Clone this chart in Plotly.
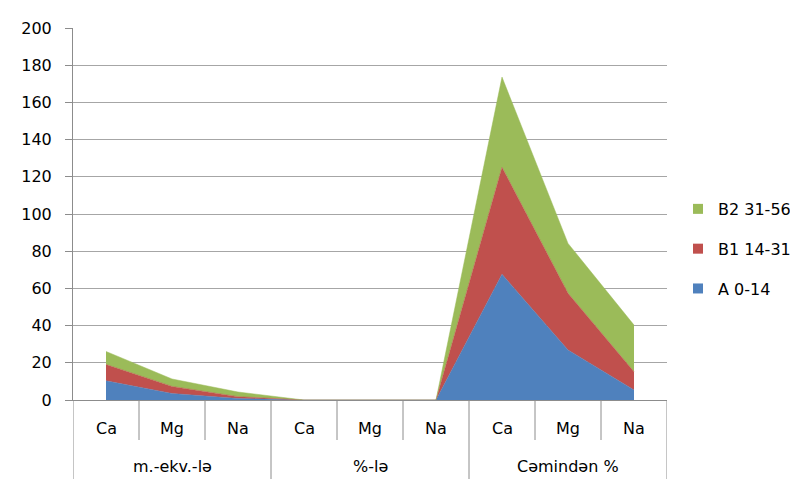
import plotly.graph_objects as go

groups = ["m.-ekv.-lə"] * 3 + ["%-lə"] * 3 + ["Cəmindən %"] * 3
elements = ["Ca", "Mg", "Na"] * 3

series_names = ["A 0-14", "B1 14-31", "B2 31-56"]
a_vals = [10.3, 3.5, 0.8, 0, 0, 0, 67.6, 26.9, 5.4]
b1_vals = [8.8, 3.8, 1.0, 0, 0, 0, 57.5, 30.5, 9.8]
b2_vals = [7.0, 4.0, 2.5, 0, 0, 0, 48.5, 26.8, 25.1]
colors = ["#4F81BD", "#C0504D", "#9BBB59"]

font_family = "'DejaVu Sans', sans-serif"
axis_col = "#8C8C8C"

x_idx = list(range(len(elements)))

fig = go.Figure()
for name, vals, col in zip(series_names, [a_vals, b1_vals, b2_vals], colors):
    fig.add_trace(go.Scatter(
        x=x_idx, y=vals, name=name, stackgroup="one",
        mode="lines", line=dict(width=0.5, color=col), fillcolor=col,
        showlegend=False, hoverinfo="skip",
    ))
# legend entries (small squares), top-to-bottom B2, B1, A
for name, col in list(zip(series_names, colors))[::-1]:
    fig.add_trace(go.Scatter(
        x=[None], y=[None], name=name, mode="markers",
        marker=dict(symbol="square", size=10, color=col),
        legendgroup=name, showlegend=True,
    ))

W, H = 790, 471
M_L, M_R, M_T, M_B = 65, 131, 20, 79
plot_h = H - M_T - M_B
inner_len = 40 / plot_h
outer_len = 79 / plot_h
shapes = []
annotations = []
n = len(elements)
for i in range(n + 1):
    b = i - 0.5
    is_group_edge = i == 0 or i == n or groups[i] != groups[i - 1]
    shapes.append(dict(type="line", xref="x", yref="paper", x0=b, x1=b,
                       y0=0, y1=-(outer_len if is_group_edge else inner_len),
                       line=dict(color=axis_col, width=1)))
for i, el in enumerate(elements):
    annotations.append(dict(x=i, y=-28 / plot_h, xref="x", yref="paper", text=el,
                            showarrow=False, xanchor="center", yanchor="middle",
                            font=dict(size=16, color="#000000")))
seen = []
for g in groups:
    if g not in seen:
        seen.append(g)
for g in seen:
    idx = [i for i, gg in enumerate(groups) if gg == g]
    annotations.append(dict(x=sum(idx) / len(idx), y=-66 / plot_h, xref="x", yref="paper",
                            text=g, showarrow=False, xanchor="center", yanchor="middle",
                            font=dict(size=16, color="#000000")))

fig.update_layout(
    width=W, height=H,
    margin=dict(l=M_L, r=M_R, t=M_T, b=M_B, pad=0),
    paper_bgcolor="white", plot_bgcolor="white",
    font=dict(family=font_family, size=16, color="#000000"),
    shapes=shapes, annotations=annotations,
    legend=dict(xref="container", x=670 / W, xanchor="left",
                yref="paper", y=0.406, yanchor="middle",
                traceorder="grouped", tracegroupgap=16,
                font=dict(size=16, color="#000000"), itemwidth=30),
    xaxis=dict(
        range=[-0.5, n - 0.5], showgrid=False, showline=True, zeroline=False,
        linecolor=axis_col, linewidth=1, showticklabels=False, ticks="",
    ),
    yaxis=dict(
        range=[0, 200], dtick=20, showgrid=True, gridcolor="#A6A6A6", gridwidth=1,
        showline=True, linecolor=axis_col, linewidth=1,
        ticks="outside", ticklen=7, tickcolor=axis_col, ticklabelstandoff=10,
        tickfont=dict(size=16, color="#000000"), zeroline=False,
    ),
)

fig.write_html("out.html")
